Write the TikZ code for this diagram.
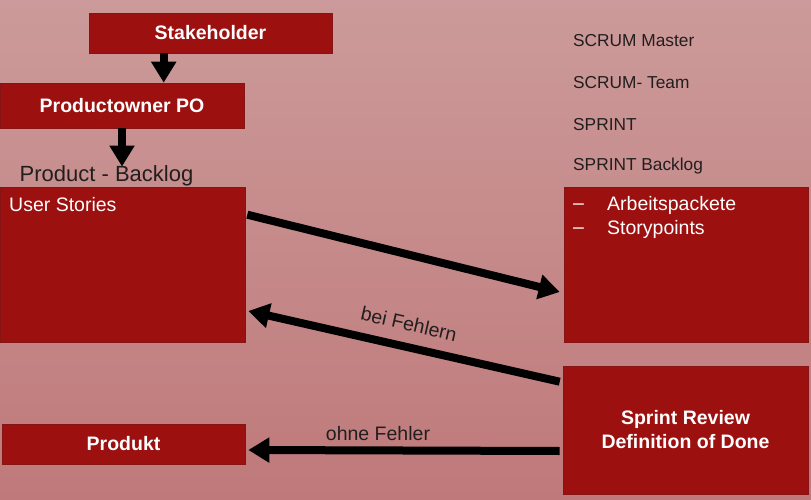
\documentclass[tikz,border=0pt]{standalone}
\usepackage{fontspec}
\setmainfont{Liberation Sans}
\usetikzlibrary{arrows.meta,calc}
\definecolor{boxred}{RGB}{156,16,16}
\definecolor{boxedge}{RGB}{135,20,20}
\definecolor{bgtop}{RGB}{204,154,154}
\definecolor{bgbot}{RGB}{191,121,122}
\definecolor{darktext}{RGB}{34,30,30}
\tikzset{
  redbox/.style={fill=boxred, draw=boxedge, line width=0.6pt, inner sep=0pt, text=white},
  boldlbl/.style={font=\fontsize{19.5}{24}\selectfont\bfseries, text=white},
  whitelbl/.style={font=\fontsize{19.5}{24}\selectfont, text=white, inner sep=0pt},
  listlbl/.style={font=\fontsize{17.3}{20}\selectfont, text=darktext, inner sep=0pt, anchor=west},
  darklbl/.style={font=\fontsize{19.5}{24}\selectfont, text=darktext, inner sep=0pt},
  bigarrow/.style={line width=8pt, -{Triangle[length=21pt,width=24pt]}, black}
}
\begin{document}
\begin{tikzpicture}[x=1pt,y=-1pt]
\shade[top color=bgtop, bottom color=bgbot] (0,0) rectangle (811,500);
\useasboundingbox (0,0) rectangle (811,500);

% boxes
\node[redbox, boldlbl, minimum width=243pt, minimum height=40pt] (stake) at (210.5,33) {Stakeholder};
\node[redbox, boldlbl, minimum width=244pt, minimum height=45pt] (po) at (122,105.5) {Productowner PO};
\node[darklbl, font=\fontsize{22}{26}\selectfont] (pb) at (106.5,176) {Product - Backlog};
\node[redbox, minimum width=245pt, minimum height=155pt] (usbox) at (122.5,264.5) {};
\node[whitelbl, anchor=west] (us) at (9,205) {User Stories};
\node[redbox, minimum width=244pt, minimum height=155pt] (sb) at (686,264.5) {};
\node[whitelbl, anchor=west] (d1) at (573,207) {–};
\node[whitelbl, anchor=west] (ap) at (607,205) {Arbeitspackete};
\node[whitelbl, anchor=west] (d2) at (573,231) {–};
\node[whitelbl, anchor=west] (sp) at (607,229) {Storypoints};
\node[redbox, boldlbl, align=center, minimum width=245pt, minimum height=128pt] (sr) at (685.5,430) {Sprint Review\\Definition of Done};
\node[redbox, boldlbl, minimum width=243pt, minimum height=40pt] (prod) at (123.5,444) {Produkt};

% list texts
\node[listlbl] (sm) at (573,41) {SCRUM Master};
\node[listlbl] (st) at (573,83) {SCRUM- Team};
\node[listlbl] (spr) at (573,125) {SPRINT};
\node[listlbl] (sbl) at (573,166) {SPRINT Backlog};

% arrows
\draw[bigarrow] ([xshift=75pt]stake.south west) -- ([xshift=164pt]po.north west);
\draw[bigarrow] (po.south) -- ([yshift=-1pt]po.south |- pb.north);
\draw[bigarrow] ([shift={(2,28)}]usbox.north east) -- ([shift={(-4,27.5)}]sb.west);
\draw[bigarrow] ([shift={(-3,16)}]sr.north west) -- ([shift={(3,46.5)}]usbox.east);
\draw[bigarrow] ([shift={(-3,21)}]sr.west) -- ([shift={(3,6)}]prod.east);

% arrow labels
\node[darklbl, rotate=-12.8] (bf) at (409,324) {bei Fehlern};
\node[darklbl] (of) at (378,434) {ohne Fehler};
\end{tikzpicture}
\end{document}
